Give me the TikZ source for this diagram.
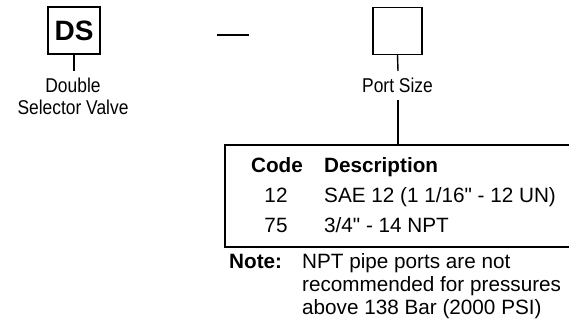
\documentclass[tikz,border=0pt]{standalone}
\usepackage{fontspec}
\setmainfont{Liberation Sans}[Ligatures=TeXOff]
\usetikzlibrary{positioning}
\tikzset{
  box/.style={draw, line width=1.4pt, minimum width=50pt, minimum height=47pt, inner sep=0pt},
  lbl/.style={inner sep=0pt, anchor=base, font=\fontsize{20}{21}\selectfont},
  txt/.style={inner sep=0pt, anchor=base west, font=\fontsize{20.7}{22}\selectfont},
  bld/.style={txt, font=\fontsize{20.7}{22}\selectfont\bfseries},
  ln/.style={line width=1.4pt},
}
\newcommand{\cond}[1]{\scalebox{0.87}[1]{#1}}
\begin{document}
\begin{tikzpicture}[x=1pt,y=-1pt]
\useasboundingbox (0,0) rectangle (569,330);
% DS box
\node[box, minimum width=52pt] (ds) at (74,30.5) {\fontsize{28}{28}\selectfont\bfseries DS};
\node[lbl] (dsl1) at (73,92.5) {\cond{Double}};
\node[lbl] (dsl2) at (73,114) {\cond{Selector Valve}};
\coordinate (dsend) at (74,71);
\draw[ln] (ds.south) -- (dsend);
% dash
\coordinate (d1) at (217,35);
\coordinate (d2) at (249,35);
\draw[line width=1.2pt] (d1) -- (d2);
% port size box
\node[box, minimum width=49pt] (ps) at (397.5,31) {};
\node[lbl] (psl) at (397.5,92.5) {\cond{Port Size}};
\coordinate (psend) at (398,71);
\draw[ln] (ps.south) -- (psend);
\coordinate (tabtop) at (398,145);
\coordinate (pstart) at (398,100);
\draw[ln] (pstart) -- (tabtop);
% table frame
\coordinate (tr) at (569,145);
\coordinate (tl) at (225,145);
\coordinate (bl) at (225,247);
\coordinate (br) at (569,247);
\draw[ln] (tr) -- (tl) -- (bl) -- (br);
% table text
\node[bld, anchor=base] (hc) at (277,172) {Code};
\node[bld] (hd) at (324,172) {Description};
\node[txt, anchor=base] (c1) at (276,202) {12};
\node[txt] (d1t) at (324,202) {SAE 12 (1 1/16" - 12 UN)};
\node[txt, anchor=base] (c2) at (276,232) {75};
\node[txt] (d2t) at (324,232) {3/4" - 14 NPT};
% note
\node[bld] (note) at (229,268) {Note:};
\node[txt] (n1) at (302,268) {NPT pipe ports are not};
\node[txt] (n2) at (302,291) {recommended for pressures};
\node[txt] (n3) at (302,314) {above 138 Bar (2000 PSI)};
\end{tikzpicture}
\end{document}
